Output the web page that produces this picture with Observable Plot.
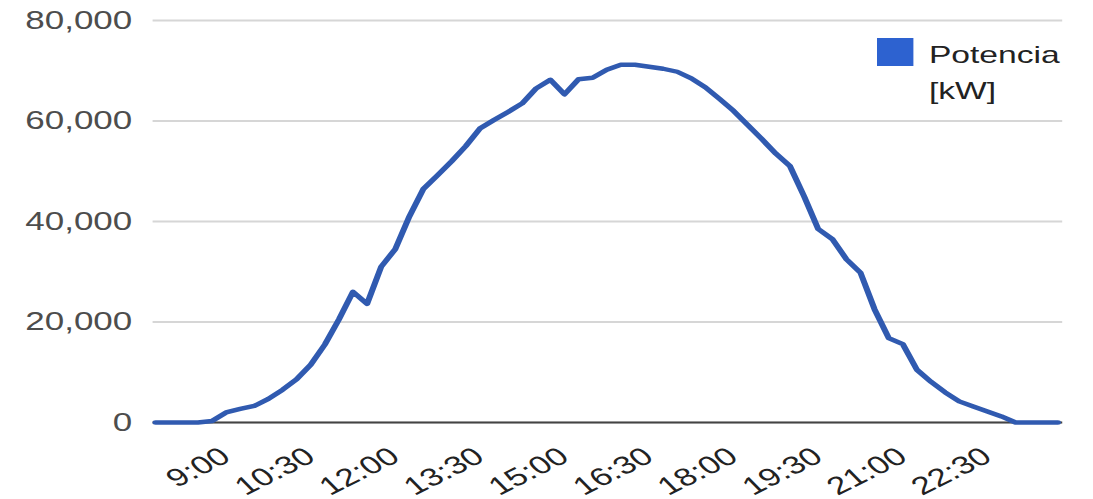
<!DOCTYPE html>
<html>
<head>
<meta charset="utf-8">
<script src="https://cdn.jsdelivr.net/npm/d3@7"></script>
<script src="https://cdn.jsdelivr.net/npm/@observablehq/plot@0.6"></script>
<style>
  body { margin: 0; background: #fff; }
  #wrap { position: relative; width: 1093px; height: 499px; overflow: hidden; background: #fff;
          font-family: "Liberation Sans", Arial, sans-serif; }
  #legend { position: absolute; left: 877px; top: 37px; transform: scaleX(1.4); transform-origin: 0 0;
            display: flex; align-items: flex-start; }
  #legend .sw { width: 25.7px; height: 28px; margin-top: 1px; background: #2d62d0; }
  #legend .lt { margin-left: 11.4px; font-size: 24px; line-height: 36px; color: #222; white-space: nowrap; }
</style>
</head>
<body>
<div id="wrap"></div>
<script>
// ---- data ----
const times = ["7:45","8:00","8:15","8:30","8:45","9:00","9:15","9:30","9:45","10:00","10:15","10:30","10:45",
  "11:00","11:15","11:30","11:45","12:00","12:15","12:30","12:45","13:00","13:15","13:30","13:45",
  "14:00","14:15","14:30","14:45","15:00","15:15","15:30","15:45","16:00","16:15","16:30","16:45",
  "17:00","17:15","17:30","17:45","18:00","18:15","18:30","18:45","19:00","19:15","19:30","19:45",
  "20:00","20:15","20:30","20:45","21:00","21:15","21:30","21:45","22:00","22:15","22:30","22:45",
  "23:00","23:15","23:30","23:45"];
const power = [0,0,0,0,300,2000,2700,3300,4700,6500,8600,11500,15500,
  20500,26000,23600,31000,34500,41000,46500,49200,52000,55000,58500,60200,
  61800,63500,66500,68200,65300,68300,68600,70200,71200,71200,70800,70400,
  69800,68500,66700,64400,62000,59200,56400,53500,51000,45000,38500,36500,
  32500,29800,22500,16800,15600,10500,8100,6000,4200,3200,2200,1200,
  0,0,0,0];
const tickLabels = ["9:00","10:30","12:00","13:30","15:00","16:30","18:00","19:30","21:00","22:30"];
const yTicks = [0, 20000, 40000, 60000, 80000];
const seriesName = ["Potencia", "[kW]"];

// ---- build ----
const toHours = s => { const [h, m] = s.split(":").map(Number); return h + m / 60; };
const data = times.map((t, i) => ({hour: toHours(t), value: power[i]}));
const tickHours = tickLabels.map(toHours);

const S = 1.4;               // horizontal stretch of the reference picture
const W = 1093 / S, H = 499;
const font = '"Liberation Sans", Arial, sans-serif';

const chart = Plot.plot({
  width: W,
  height: H,
  marginLeft: 109,
  marginRight: 22,
  marginTop: 20,
  marginBottom: 77,
  style: {fontFamily: font, background: "transparent", overflow: "visible"},
  x: {domain: [7.709, 23.839]},
  y: {domain: [0, 80000]},
  marks: [
    Plot.gridY(yTicks, {stroke: "#d6d6d6", strokeOpacity: 1, strokeWidth: 2}),
    Plot.axisY(yTicks, {label: null, tickSize: 0, tickPadding: 15, tickFormat: d3.format(","),
      fill: "#4d4d4d", fontSize: 25}),
    Plot.axisX(tickHours, {label: null, tickSize: 0, tickPadding: 31, tickRotate: -35,
      tickFormat: h => tickLabels[tickHours.indexOf(h)], textAnchor: "end",
      fill: "#222", fontSize: 25}),
    Plot.ruleY([0], {stroke: "#444", strokeWidth: 2}),
    Plot.line(data, {x: "hour", y: "value", stroke: "#305ab0", strokeWidth: 4.4,
      strokeLinejoin: "round", strokeLinecap: "round"})
  ]
});

chart.setAttribute("viewBox", `0 0 ${W} ${H}`);
chart.setAttribute("preserveAspectRatio", "none");
chart.setAttribute("width", 1093);
chart.setAttribute("height", H);
chart.style.width = "1093px";
chart.style.height = H + "px";
chart.style.maxWidth = "none";
chart.style.display = "block";

const wrap = document.getElementById("wrap");
wrap.appendChild(chart);

const legend = document.createElement("div");
legend.id = "legend";
legend.innerHTML = `<div class="sw"></div><div class="lt">${seriesName.join("<br>")}</div>`;
wrap.appendChild(legend);
</script>
</body>
</html>
